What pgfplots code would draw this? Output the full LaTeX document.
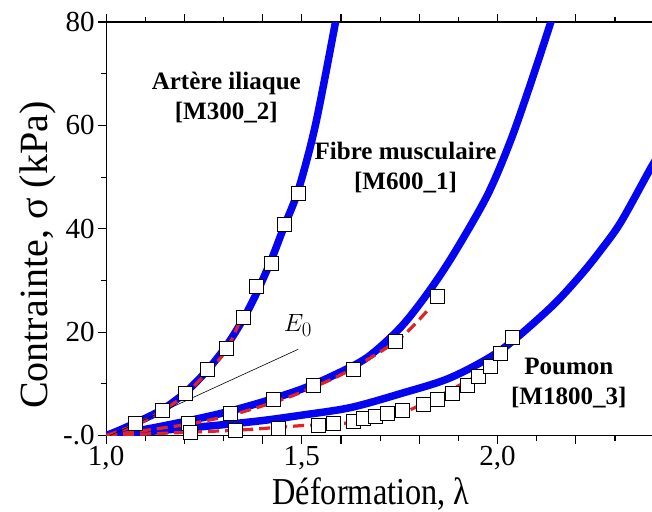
\documentclass[border=0pt]{standalone}
\usepackage{pgfplots}
\pgfplotsset{compat=1.18}
\usepackage{graphicx}
\usepackage{fontspec}
\setmainfont{Liberation Serif}
\definecolor{myblue}{RGB}{5,5,240}
\definecolor{myred}{RGB}{225,35,35}
\begin{document}
\begin{tikzpicture}
\begin{axis}[
 scale only axis, width=546pt, height=413pt,
 xmin=1, xmax=2.3965, ymin=0, ymax=80,
 axis line style={line width=1.2pt},
 xtick pos=both, ytick pos=left,
 tick align=outside,
 tick style={line width=1.1pt, black},
 major tick length=8pt, minor tick length=5pt,
 xtick={1,1.5,2},
 xticklabels={{1,0},{1,5},{2,0}},
 extra x ticks={1.2,1.4,1.6,1.8,2.2}, extra x tick labels={},
 minor xtick={1.1,1.3,1.7,1.9,2.1,2.3},
 ytick={0,20,40,60,80}, yticklabels={{-.0},20,40,60,80},
 minor ytick={10,30,50,70},
 ticklabel style={font=\fontsize{29}{31}\selectfont},
 xticklabel style={yshift=1pt},
 xlabel={\scalebox{0.85}[1]{Déformation, λ}},
 ylabel={Contrainte, σ (kPa)},
 xlabel style={font=\fontsize{38}{40}\selectfont, at={(axis description cs:0.304,0)}, anchor=base west, yshift=-69pt, inner sep=0pt},
 ylabel style={font=\fontsize{40}{42}\selectfont, at={(axis description cs:-0.125,0.436)}, anchor=center},
 every axis plot/.append style={smooth},
]
% blue experimental curves
\addplot[myblue, line width=7.5pt] coordinates {
(1,0) (1.03,0.9) (1.074,2.4) (1.143,5.0) (1.202,8.3) (1.258,12.6) (1.307,17.3)
(1.35,22.5) (1.384,27.5) (1.422,34) (1.455,40.5) (1.491,47.5) (1.5345,60) (1.586,80) (1.60,86)};
\addplot[myblue, line width=7.5pt] coordinates {
(1,0) (1.1,1.2) (1.2,2.7) (1.3,4.4) (1.4,6.5) (1.5,9.0) (1.58,11.6) (1.667,15.1)
(1.752,20.9) (1.821,27.5) (1.887,35) (1.974,46.5) (2.033,57) (2.084,68) (2.136,80) (2.15,84)};
\addplot[myblue, line width=7.5pt] coordinates {
(1,0) (1.1,0.7) (1.2,1.4) (1.3,2.1) (1.4,2.9) (1.496,3.9) (1.624,5.4) (1.752,8.1)
(1.88,11.2) (2.008,16.5) (2.136,24.8) (2.212,31) (2.263,35.8) (2.315,41.3) (2.391,51.7) (2.41,54)};
% squares
\addplot[only marks, mark=square*, mark size=7pt, mark options={fill=white, draw=black, line width=1.1pt}] coordinates {
(1.074,2.3) (1.143,4.8) (1.202,8.1) (1.258,12.8) (1.307,16.9) (1.350,22.9) (1.384,28.9) (1.422,33.3) (1.455,40.9) (1.491,46.9)};
\addplot[only marks, mark=square*, mark size=7pt, mark options={fill=white, draw=black, line width=1.1pt}] coordinates {
(1.21,2.3) (1.317,4.3) (1.427,7.0) (1.529,9.7) (1.632,12.8) (1.739,18.2) (1.847,26.9)};
\addplot[only marks, mark=square*, mark size=7pt, mark options={fill=white, draw=black, line width=1.1pt}] coordinates {
(1.215,0.6) (1.33,1.0) (1.44,1.4) (1.542,1.9) (1.581,2.3) (1.632,2.7) (1.657,3.3) (1.688,3.7) (1.719,4.3) (1.757,4.8)
(1.811,6.0) (1.847,7.0) (1.885,8.1) (1.923,9.7) (1.951,11.4) (1.982,13.4) (2.008,15.9) (2.038,19)};
% red dashed fits
\addplot[myred, line width=3.2pt, dash pattern=on 11pt off 6pt] coordinates {
(1,0) (1.07,1.9) (1.14,4.6) (1.2,7.8) (1.255,12) (1.305,16.3) (1.343,22.3)};
\addplot[myred, line width=3.2pt, dash pattern=on 11pt off 6pt] coordinates {
(1,0) (1.1,1.0) (1.21,2.2) (1.317,3.9) (1.427,6.4) (1.496,8.3) (1.606,12) (1.744,18.4) (1.821,24.2)};
\addplot[myred, line width=3.2pt, dash pattern=on 11pt off 6pt] coordinates {
(1,0) (1.2,0.6) (1.35,1.1) (1.496,1.9) (1.624,2.5) (1.752,4.3) (1.862,8.1) (1.957,12)};
% E0 tangent
\addplot[black, line width=0.6pt, sharp plot] coordinates {(1.01,0) (1.491,16.7)};
\node at (axis cs:1.49,21.3) {\fontsize{30}{32}\selectfont $E_0$};
\node[align=center, font=\bfseries\fontsize{25}{30}\selectfont] at (axis cs:1.307,65.4) {Artère iliaque\\{[M300\_2]}};
\node[align=center, font=\bfseries\fontsize{25}{30}\selectfont] at (axis cs:1.765,51.9) {Fibre musculaire\\{[M600\_1]}};
\node[align=center, font=\bfseries\fontsize{25}{30}\selectfont] at (axis cs:2.182,10.1) {Poumon\\{[M1800\_3]}};
\path (rel axis cs:0,0) coordinate (A) (rel axis cs:1,1) coordinate (B);
\end{axis}
\pgfresetboundingbox
\path[use as bounding box] ([xshift=-106pt,yshift=-76pt]A) rectangle ([xshift=-0.8pt,yshift=22pt]B);
\end{tikzpicture}
\end{document}
